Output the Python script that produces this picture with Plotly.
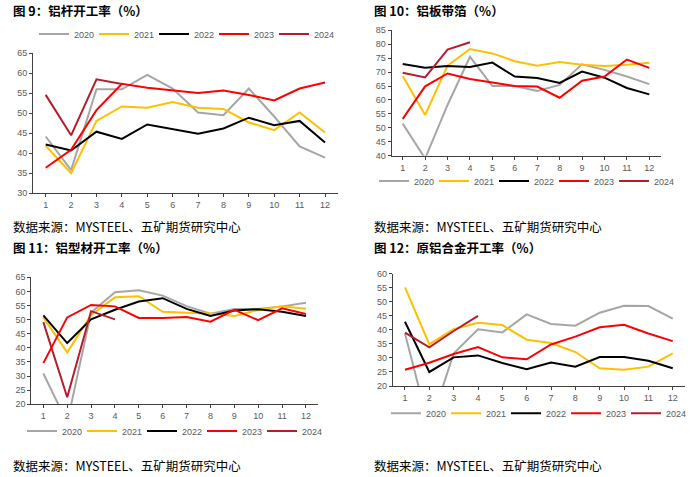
import plotly.graph_objects as go

months = list(range(1, 13))
years = ["2020", "2021", "2022", "2023", "2024"]
colors = ["#A6A6A6", "#FFC000", "#000000", "#FF0000", "#B71C2B"]

# 图9 铝杆开工率
rod_2020 = [44.2, 35.8, 56.0, 56.0, 59.6, 56.2, 50.2, 49.5, 56.2, 49.2, 41.7, 38.9]
rod_2021 = [41.9, 35.0, 48.1, 51.7, 51.4, 52.8, 51.4, 51.1, 47.7, 45.8, 50.2, 45.2]
rod_2022 = [42.2, 40.7, 45.4, 43.6, 47.2, 46.1, 44.9, 46.2, 48.9, 47.0, 48.1, 42.7]
rod_2023 = [36.4, 40.9, 50.8, 57.4, 56.4, 55.7, 55.1, 55.7, 54.6, 53.2, 56.2, 57.7]
rod_2024 = [54.6, 44.5, 58.5, 57.3]

# 图10 铝板带箔
sheet_2020 = [51.5, 39.0, 58.2, 75.5, 65.0, 65.0, 63.2, 65.4, 72.8, 70.8, 68.4, 65.7]
sheet_2021 = [68.6, 54.6, 72.3, 78.3, 76.7, 73.9, 72.3, 73.6, 72.6, 72.2, 72.6, 73.4]
sheet_2022 = [72.9, 71.6, 72.2, 71.8, 73.4, 68.4, 67.9, 66.1, 70.2, 68.0, 64.3, 62.0]
sheet_2023 = [53.2, 64.9, 69.5, 67.5, 66.3, 65.0, 64.8, 60.8, 66.9, 68.4, 74.5, 71.5]
sheet_2024 = [69.8, 68.1, 78.1, 80.7]

# 图11 铝型材开工率
prof_2020 = [30.9, 13.5, 52.5, 59.7, 60.4, 58.5, 54.8, 52.1, 53.8, 53.8, 54.7, 56.0]
prof_2021 = [50.8, 38.4, 51.7, 57.9, 58.3, 52.8, 52.4, 52.2, 51.3, 53.4, 54.7, 53.9]
prof_2022 = [51.5, 41.7, 50.1, 53.5, 56.4, 57.6, 53.8, 51.3, 53.2, 53.7, 52.8, 51.3]
prof_2023 = [34.6, 50.8, 55.2, 54.7, 50.6, 50.6, 50.9, 49.3, 53.5, 49.8, 54.0, 52.0]
prof_2024 = [49.1, 22.5, 53.0, 50.1]

# 图12 原铝合金开工率
alloy_2020 = [38.7, 5.0, 31.6, 40.2, 39.1, 45.5, 42.1, 41.5, 46.1, 48.6, 48.5, 44.0]
alloy_2021 = [55.1, 34.9, 40.2, 42.5, 41.7, 36.5, 35.3, 32.1, 26.3, 25.8, 26.9, 31.6]
alloy_2022 = [42.9, 25.0, 30.2, 30.9, 28.2, 26.0, 28.4, 26.9, 30.3, 30.3, 29.0, 26.3]
alloy_2023 = [25.8, 28.3, 31.4, 33.9, 30.2, 29.5, 34.8, 37.6, 40.9, 41.8, 38.7, 36.0]
alloy_2024 = [39.0, 33.8, 39.6, 45.0]

titles = ["图 9：铝杆开工率（%）", "图 10：铝板带箔（%）",
          "图 11：铝型材开工率（%）", "图 12：原铝合金开工率（%）"]
source = "数据来源：MYSTEEL、五矿期货研究中心"

panels = [
    [rod_2020, rod_2021, rod_2022, rod_2023, rod_2024],
    [sheet_2020, sheet_2021, sheet_2022, sheet_2023, sheet_2024],
    [prof_2020, prof_2021, prof_2022, prof_2023, prof_2024],
    [alloy_2020, alloy_2021, alloy_2022, alloy_2023, alloy_2024],
]
yranges = [(30, 65), (40, 85), (20, 65), (20, 60)]

W, H = 700, 477
# pixel boxes: (left, right, top, bottom)
boxes = [(33, 337.7, 53.3, 193.3), (391.5, 660.5, 30.3, 155.7),
         (31.4, 317.9, 277.3, 404.3), (392.8, 684.9, 273.7, 386.0)]
legend_y = [34, 181, 431, 413.3]
legend_x = [184, 524, 172, 536]
title_pos = [(11, 11), (371.5, 11), (11, 248), (371.5, 248)]
source_pos = [(11, 227), (371.5, 227), (11, 465), (371.5, 465)]

tick_font = dict(size=9, color="#595959", family="Liberation Sans, Arial")

fig = go.Figure()
layout = dict(width=W, height=H,
              margin=dict(l=0, r=0, t=0, b=0, pad=0, autoexpand=False),
              paper_bgcolor="white", plot_bgcolor="white",
              font=dict(family="Noto Sans CJK SC, Noto Sans, sans-serif", color="#595959"))
annotations = []
for i, (series, yr, box) in enumerate(zip(panels, yranges, boxes)):
    n = i + 1
    xa = "x" if n == 1 else f"x{n}"
    ya = "y" if n == 1 else f"y{n}"
    lg = "legend" if n == 1 else f"legend{n}"
    for vals, name, col in zip(series, years, colors):
        fig.add_trace(go.Scatter(
            x=months[:len(vals)], y=vals, name=name, mode="lines",
            line=dict(color=col, width=2), xaxis=xa, yaxis=ya, legend=lg,
            hoverinfo="skip"))
    l, r, t, b = box
    layout["xaxis" if n == 1 else f"xaxis{n}"] = dict(
        domain=[l / W, r / W], range=[0.5, 12.5], anchor=ya,
        tickmode="array", tickvals=months, ticktext=[str(m) for m in months],
        showline=True, linecolor="#404040", linewidth=1, ticks="outside",
        ticklen=3, tickcolor="#404040", showgrid=False, zeroline=False,
        tickfont=tick_font)
    layout["yaxis" if n == 1 else f"yaxis{n}"] = dict(
        domain=[1 - b / H, 1 - t / H], range=list(yr), anchor=xa, dtick=5,
        showline=True, linecolor="#404040", linewidth=1, ticks="outside",
        ticklen=3, tickcolor="#404040", showgrid=False, zeroline=False,
        tickfont=tick_font)
    layout[lg] = dict(orientation="h", x=legend_x[i] / W, xanchor="center",
                      y=1 - legend_y[i] / H, yanchor="middle",
                      font=tick_font, entrywidth=15, entrywidthmode="pixels",
                      bgcolor="rgba(0,0,0,0)", itemwidth=30, tracegroupgap=0)
    tx, ty = title_pos[i]
    annotations.append(dict(text="<b>" + titles[i] + "</b>", x=tx / W, y=1 - ty / H,
                            xref="paper", yref="paper", xanchor="left", yanchor="middle",
                            showarrow=False,
                            font=dict(size=12.5, color="#000000", family="Noto Sans CJK SC")))
    sx, sy = source_pos[i]
    annotations.append(dict(text=source, x=sx / W, y=1 - sy / H,
                            xref="paper", yref="paper", xanchor="left", yanchor="middle",
                            showarrow=False,
                            font=dict(size=12.5, color="#000000", family="Noto Sans CJK SC")))
layout["annotations"] = annotations
fig.update_layout(**layout)
fig.write_html("out.html", config={"displayModeBar": False},
               post_script="document.body.style.margin='0';document.body.style.padding='0';")
